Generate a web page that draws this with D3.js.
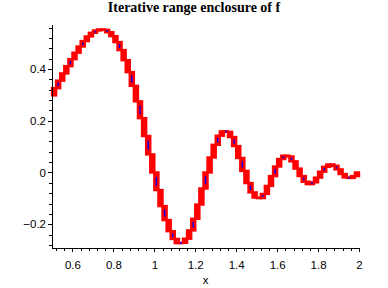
<!DOCTYPE html>
<html>
<head>
<meta charset="utf-8">
<script src="https://cdn.jsdelivr.net/npm/d3@7/dist/d3.min.js"></script>
<style>
  html, body { margin: 0; padding: 0; background: #fff; }
  svg { display: block; }
</style>
</head>
<body>
<script>
// ---- data ----
const xGrid = [0.50,0.52,0.54,0.56,0.58,0.60,0.62,0.64,0.66,0.68,0.70,0.72,0.74,0.76,0.78,0.80,0.82,0.84,0.86,0.88,
  0.90,0.92,0.94,0.96,0.98,1.00,1.02,1.04,1.06,1.08,1.10,1.12,1.14,1.16,1.18,1.20,1.22,1.24,1.26,1.28,
  1.30,1.32,1.34,1.36,1.38,1.40,1.42,1.44,1.46,1.48,1.50,1.52,1.54,1.56,1.58,1.60,1.62,1.64,1.66,1.68,
  1.70,1.72,1.74,1.76,1.78,1.80,1.82,1.84,1.86,1.88,1.90,1.92,1.94,1.96,1.98,2.00];
const fValues = [0.298,0.326,0.355,0.383,0.411,0.438,0.463,0.487,0.508,0.526,0.540,0.549,0.553,0.551,0.542,0.527,0.504,0.473,0.434,0.388,
  0.335,0.275,0.210,0.141,0.070,0.000,-0.068,-0.130,-0.184,-0.227,-0.257,-0.273,-0.272,-0.256,-0.224,-0.179,-0.124,-0.062,0.000,0.058,
  0.107,0.142,0.159,0.157,0.137,0.102,0.056,0.006,-0.041,-0.077,-0.097,-0.099,-0.083,-0.052,-0.014,0.023,0.052,0.065,0.062,0.043,
  0.015,-0.014,-0.036,-0.045,-0.038,-0.020,0.003,0.022,0.031,0.026,0.012,-0.006,-0.019,-0.021,-0.014,0.000];
// intervals whose refined (blue) enclosure is visible
const blueIntervals = [1,4,7,10,13,16,19,21,23,25,27,29,31,34,37,40,42,44,46,48,51,54,56,58,61,63,66,69,72];
const xTicks = [0.6,0.8,1,1.2,1.4,1.6,1.8,2];
const xMinor = [0.52,0.56,0.64,0.68,0.72,0.76,0.84,0.88,0.92,0.96,1.04,1.08,1.12,1.16,1.24,1.28,1.32,1.36,1.44,1.48,1.52,1.56,1.64,1.68,1.72,1.76,1.84,1.88,1.92,1.96];
const yTicks = [-0.2,0,0.2,0.4];
const yMinor = [-0.28,-0.24,-0.16,-0.12,-0.08,-0.04,0.04,0.08,0.12,0.16,0.24,0.28,0.32,0.36,0.44,0.48,0.52,0.56];
const titleText = "Iterative range enclosure of f";
const xLabel = "x";

// ---- chart ----
const W = 388, H = 288;
const svg = d3.select("body").append("svg").attr("width", W).attr("height", H);

const x = d3.scaleLinear().domain([0.5, 2]).range([52, 359]);
const y = d3.scaleLinear().domain([-0.292, 0.574]).range([248, 24]);

svg.append("text")
  .attr("x", 194).attr("y", 12)
  .attr("text-anchor", "middle")
  .style("font-family", "'Liberation Serif', 'Times New Roman', serif")
  .style("font-weight", "bold")
  .style("font-size", "14px")
  .text(titleText);

// enclosure boxes
const intervals = d3.range(xGrid.length - 1).map(i => ({
  i,
  x0: xGrid[i], x1: xGrid[i + 1],
  lo: Math.min(fValues[i], fValues[i + 1]),
  hi: Math.max(fValues[i], fValues[i + 1])
}));

svg.append("g").selectAll("rect").data(intervals).join("rect")
  .attr("x", d => x(d.x0))
  .attr("width", d => x(d.x1) - x(d.x0))
  .attr("y", d => y(d.hi))
  .attr("height", d => y(d.lo) - y(d.hi))
  .attr("fill", "#ff0000")
  .attr("stroke", "#ff0000")
  .attr("stroke-width", 2.4)
  .attr("stroke-linejoin", "miter");

svg.append("g").selectAll("line").data(intervals.filter(d => blueIntervals.includes(d.i))).join("line")
  .attr("x1", d => x((d.x0 + d.x1) / 2)).attr("x2", d => x((d.x0 + d.x1) / 2))
  .attr("y1", d => { const a = y(d.hi), b = y(d.lo), m = (a + b) / 2; return Math.min(a + (b - a) * 0.25, m - 1); })
  .attr("y2", d => { const a = y(d.hi), b = y(d.lo), m = (a + b) / 2; return Math.max(b - (b - a) * 0.25, m + 1); })
  .attr("stroke", "#0000ff")
  .attr("stroke-width", 1.4);

// axes
const fontFam = "'Liberation Sans', Arial, sans-serif";
const fmt = d => d3.format("")(d);

const gx = svg.append("g").attr("transform", `translate(0,${y.range()[0]})`);
gx.call(d3.axisBottom(x).tickValues(xTicks).tickFormat(fmt).tickSize(4).tickSizeOuter(0).tickPadding(9));
svg.append("g").attr("transform", `translate(0,${y.range()[0]})`)
  .call(d3.axisBottom(x).tickValues(xMinor).tickFormat("").tickSize(3).tickSizeOuter(0))
  .select(".domain").remove();

const gy = svg.append("g").attr("transform", `translate(${x.range()[0]},0)`);
gy.call(d3.axisLeft(y).tickValues(yTicks).tickFormat(fmt).tickSize(4).tickSizeOuter(0).tickPadding(2));
svg.append("g").attr("transform", `translate(${x.range()[0]},0)`)
  .call(d3.axisLeft(y).tickValues(yMinor).tickFormat("").tickSize(3).tickSizeOuter(0))
  .select(".domain").remove();

svg.selectAll(".tick text")
  .style("font-family", fontFam).style("font-size", "11.5px").attr("fill", "#000");
svg.selectAll(".domain, .tick line").attr("stroke", "#000").attr("shape-rendering", "crispEdges");
gy.selectAll(".tick text").text(d => d < 0 ? "\u2212" + Math.abs(d) : d);

svg.append("text")
  .attr("x", (x.range()[0] + x.range()[1]) / 2).attr("y", 284)
  .attr("text-anchor", "middle")
  .style("font-family", fontFam).style("font-size", "11.5px")
  .text(xLabel);
</script>
</body>
</html>
